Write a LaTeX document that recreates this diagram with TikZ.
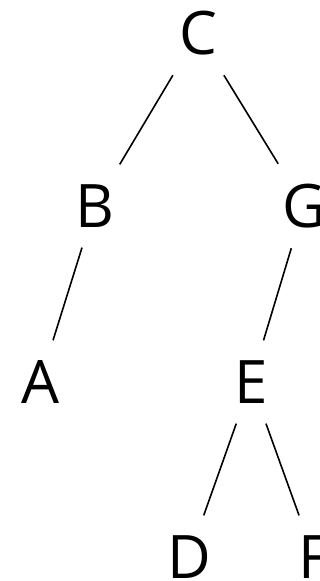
\documentclass[tikz,border=0pt]{standalone}
\usepackage{fontspec}
\setmainfont{Open Sans}
\begin{document}
\begin{tikzpicture}[x=1pt,y=1pt,
  lbl/.style={inner sep=20pt,font=\fontsize{60}{64}\selectfont},
  edge/.style={draw=black,line width=1.6pt}]
\useasboundingbox (0,0) rectangle (320,581);
\node[lbl] (C) at (198,548) {C};
\node[lbl] (B) at (95,375) {B};
\node[lbl] (G) at (304,375) {G};
\node[lbl] (A) at (40,199) {A};
\node[lbl] (E) at (251,199) {E};
\node[lbl] (D) at (189,24) {D};
\node[lbl] (F) at (314,24) {F};
\draw[edge] (C) -- (B);
\draw[edge] (C) -- (G);
\draw[edge] (B) -- (A);
\draw[edge] (G) -- (E);
\draw[edge] (E) -- (D);
\draw[edge] (E) -- (F);
\end{tikzpicture}
\end{document}
